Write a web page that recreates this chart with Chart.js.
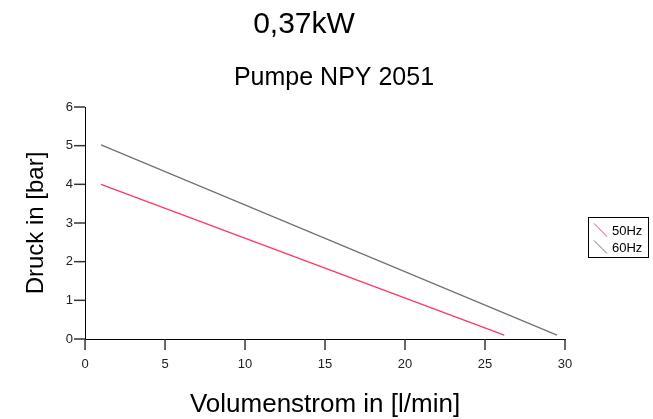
<!DOCTYPE html>
<html>
<head>
<meta charset="utf-8">
<script src="https://cdn.jsdelivr.net/npm/chart.js@4/dist/chart.umd.min.js"></script>
<style>
  html, body { margin: 0; padding: 0; background: #fff; }
  #wrap { width: 653px; height: 419px; }
</style>
</head>
<body>
<div id="wrap"><canvas id="myChart"></canvas></div>
<script>
// Values
const seriesLabels = ["50Hz", "60Hz"];
const seriesColors = ["#ff3366", "#707070"];
const flow50 = [1, 26.2];
const pressure50 = [4.0, 0.1];
const flow60 = [1, 29.5];
const pressure60 = [5.02, 0.1];
const heading = "0,37kW";
const pumpName = "Pumpe NPY 2051";

const FONT = "'Liberation Sans', Arial, sans-serif";
const TICK_LEN = 11;

// outward tick marks, header texts and the boxed legend on the right
const extras = {
  id: "extras",
  afterDraw(chart) {
    const ctx = chart.ctx;
    const xs = chart.scales.x, ys = chart.scales.y;
    const area = chart.chartArea;
    ctx.save();
    ctx.strokeStyle = "#333";
    ctx.lineWidth = 1.5;
    xs.ticks.forEach(t => {
      const px = xs.getPixelForValue(t.value);
      ctx.beginPath();
      ctx.moveTo(px, area.bottom);
      ctx.lineTo(px, area.bottom + TICK_LEN);
      ctx.stroke();
    });
    ys.ticks.forEach(t => {
      const py = ys.getPixelForValue(t.value);
      ctx.beginPath();
      ctx.moveTo(area.left, py);
      ctx.lineTo(area.left - TICK_LEN, py);
      ctx.stroke();
    });
    ctx.lineWidth = 1;

    ctx.fillStyle = "#000";
    ctx.textAlign = "center";
    ctx.textBaseline = "alphabetic";
    ctx.font = "30px " + FONT;
    ctx.fillText(heading, 304, 33);
    ctx.font = "25px " + FONT;
    ctx.fillText(pumpName, 334, 85);

    // legend
    ctx.strokeStyle = "#000";
    ctx.strokeRect(588.5, 217.5, 60, 40);
    ctx.font = "13px " + FONT;
    ctx.textAlign = "left";
    ctx.textBaseline = "middle";
    chart.data.datasets.forEach((ds, i) => {
      const cy = 230 + i * 17;
      ctx.strokeStyle = ds.borderColor;
      ctx.beginPath();
      ctx.moveTo(594, cy - 6.5);
      ctx.lineTo(607, cy + 6.5);
      ctx.stroke();
      ctx.fillStyle = "#000";
      ctx.fillText(ds.label, 612, cy + 1);
    });
    ctx.restore();
  }
};

const toPoints = (xs, ys) => xs.map((x, i) => ({ x: x, y: ys[i] }));

new Chart(document.getElementById("myChart").getContext("2d"), {
  type: "line",
  data: {
    datasets: [
      {
        label: seriesLabels[0],
        data: toPoints(flow50, pressure50),
        borderColor: seriesColors[0],
        borderWidth: 1.2,
        pointRadius: 0,
        fill: false
      },
      {
        label: seriesLabels[1],
        data: toPoints(flow60, pressure60),
        borderColor: seriesColors[1],
        borderWidth: 1.2,
        pointRadius: 0,
        fill: false
      }
    ]
  },
  options: {
    responsive: true,
    maintainAspectRatio: false,
    animation: false,
    layout: { padding: { top: 107, left: 22, right: 88, bottom: 1 } },
    plugins: {
      title: { display: false },
      tooltip: { enabled: false },
      legend: { display: false }
    },
    scales: {
      x: {
        type: "linear",
        min: 0,
        max: 30,
        ticks: { stepSize: 5, color: "#222", font: { family: FONT, size: 13, lineHeight: 1 },
                 padding: 19, maxRotation: 0 },
        grid: { display: false, drawTicks: false },
        border: { color: "#000", width: 1 },
        title: { display: true, text: "Volumenstrom in [l/min]", color: "#000",
                 font: { family: FONT, size: 26, lineHeight: 1 }, padding: { top: 2, bottom: 0 } }
      },
      y: {
        type: "linear",
        min: 0,
        max: 6,
        ticks: { stepSize: 1, color: "#222", font: { family: FONT, size: 13 }, padding: 12 },
        grid: { display: false, drawTicks: false },
        border: { color: "#000", width: 1 },
        title: { display: true, text: "Druck in [bar]", color: "#000",
                 font: { family: FONT, size: 24 }, padding: { top: 0, bottom: 3 } }
      }
    }
  },
  plugins: [extras]
});
</script>
</body>
</html>
